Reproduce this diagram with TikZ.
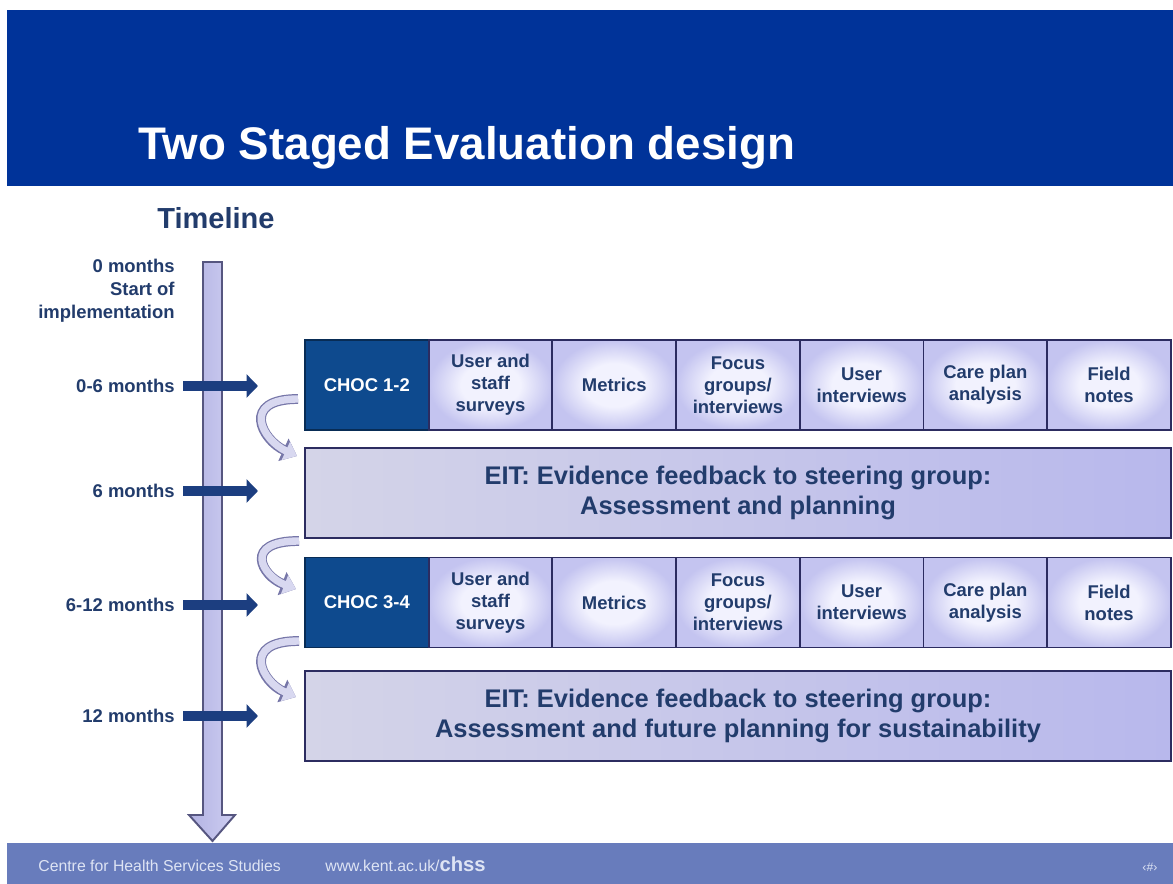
\documentclass[tikz,border=0pt]{standalone}
\usepackage{fontspec}
\setmainfont{Liberation Sans}
\usetikzlibrary{arrows.meta}

\definecolor{bandblue}{RGB}{0,51,153}
\definecolor{footblue}{RGB}{104,124,188}
\definecolor{foottext}{RGB}{222,228,244}
\definecolor{inkblue}{RGB}{34,60,108}
\definecolor{chocblue}{RGB}{14,74,142}
\definecolor{tickblue}{RGB}{28,62,128}
\definecolor{boxedge}{RGB}{44,44,96}
\definecolor{boxlight}{RGB}{242,242,254}
\definecolor{boxdark}{RGB}{196,196,240}
\definecolor{eitleft}{RGB}{212,212,232}
\definecolor{eitright}{RGB}{184,184,236}
\definecolor{barleft}{RGB}{178,178,226}
\definecolor{barright}{RGB}{206,206,242}
\definecolor{bendfill}{RGB}{216,216,240}
\definecolor{bendedge}{RGB}{118,118,168}

\pgfdeclareradialshading{methodshade}{\pgfpoint{0bp}{0bp}}{color(0bp)=(boxlight); color(12bp)=(boxlight); color(25bp)=(boxdark); color(50bp)=(boxdark)}

\tikzset{
  method/.style={draw=boxedge, line width=1.1pt, shading=methodshade,
    minimum width=2.474cm, minimum height=1.8cm, inner sep=1pt, align=center,
    text=inkblue, font=\bfseries\fontsize{10.5}{12.5}\selectfont},
  choc/.style={draw=chocblue!60!black, line width=1.1pt, fill=chocblue,
    minimum width=2.474cm, minimum height=1.8cm, inner sep=1pt, align=center,
    text=white, font=\bfseries\fontsize{10.5}{12.5}\selectfont},
  eit/.style={draw=boxedge, line width=1.1pt, left color=eitleft, middle color=boxlight,
    right color=eitright, minimum width=17.32cm, minimum height=1.8cm, align=center,
    text=inkblue, font=\bfseries\fontsize{14.5}{17.5}\selectfont},
  stamp/.style={anchor=east, inner sep=0pt, align=right, text=inkblue,
    font=\bfseries\fontsize{10.5}{13}\selectfont},
  tick/.style={draw=tickblue, line width=6pt, shorten <=1.6mm,
    -{Triangle[length=6.5pt,width=13pt]}},
  loopback/.style={draw=bendfill, line width=4.2pt, -{Triangle[length=7pt,width=11pt]},
    preaction={draw=bendedge, line width=5.6pt, -{Triangle[length=8.5pt,width=13.5pt]}}},
}

\begin{document}
\begin{tikzpicture}[x=0.02cm,y=-0.02cm]
\path[use as bounding box, fill=white] (0,0) rectangle (1173,884);

% title band and footer
\fill[bandblue] (7,10) rectangle (1173,186);
\node[anchor=base west, inner sep=0pt, text=white, font=\bfseries\fontsize{26}{30}\selectfont] (title) at (138,160) {Two Staged Evaluation design};

\fill[footblue] (7,843) rectangle (1173,884);
\node[anchor=base west, inner sep=0pt, text=foottext, font=\fontsize{9}{10}\selectfont] (centre) at (38,871) {Centre for Health Services Studies};
\node[anchor=base west, inner sep=0pt, text=foottext, font=\fontsize{9}{10}\selectfont] (web) at (325,871) {www.kent.ac.uk/\textbf{\fontsize{11.5}{12}\selectfont chss}};
\node[anchor=base, inner sep=0pt, text=foottext, font=\fontsize{7}{8}\selectfont] (slide) at (1150,871) {‹\#›};

% timeline
\node[text=inkblue, font=\bfseries\fontsize{16.5}{18}\selectfont] (timeline) at (216,218) {Timeline};
\draw[draw=boxedge!80, line width=1.1pt, left color=barleft, middle color=white, right color=barright]
  (203,262) -- (222,262) -- (222,815) -- (235,815) -- (212.5,841) -- (189,815) -- (203,815) -- cycle;

\node[stamp] (start) at (175,291) {0 months\\Start of\\implementation};
%\node[stamp] (end) at (175,800) {18 months};

\foreach \y/\name/\txt in {386/six0/0-6 months, 491/six/6 months, 605/twelve0/6-12 months, 716/twelve/12 months}{
	\node[stamp] (\name) at (175,\y) {\txt};
	\coordinate (\name tip) at (258,\y);
	\draw[tick] (\name) -- (\name tip);}

% stages
\foreach \row/\yc/\lbl in {1/385/CHOC 1-2, 2/602.5/CHOC 3-4}{
	\node[choc] (choc\row) at (366.85,\yc) {\lbl};
	\foreach \txt [count=\i] in {{User and\\staff\\surveys}, Metrics, {Focus\\groups/\\interviews}, {User\\interviews}, {Care plan\\analysis}, {Field\\notes}}
		\node[method] (m\row\i) at ({305+123.7*(\i+0.5)},\yc) {\txt};}

\node[eit] (eit1) at (738,493) {EIT: Evidence feedback to steering group:\\Assessment and planning};
\node[eit] (eit2) at (738,716) {EIT: Evidence feedback to steering group:\\Assessment and future planning for sustainability};

% feedback loops
\coordinate (k1s) at (298,399); \coordinate (k1e) at (297,456);
\coordinate (k2s) at (299,541); \coordinate (k2e) at (296,589);
\coordinate (k3s) at (299,641); \coordinate (k3e) at (296,697);
\draw[loopback] (k1s) .. controls (240,399) and (262,440) .. (k1e);
\draw[loopback] (k2s) .. controls (242,541) and (262,576) .. (k2e);
\draw[loopback] (k3s) .. controls (240,641) and (262,682) .. (k3e);
\end{tikzpicture}
\end{document}
